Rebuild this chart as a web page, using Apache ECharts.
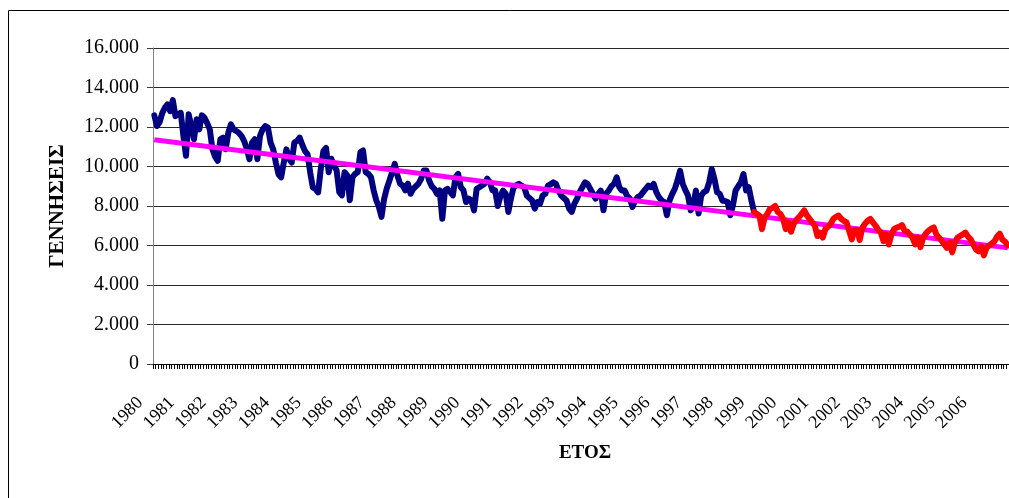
<!DOCTYPE html>
<html>
<head>
<meta charset="utf-8">
<script src="https://cdn.jsdelivr.net/npm/echarts@6/dist/echarts.min.js"></script>
<style>
  html, body { margin: 0; padding: 0; background: #fff; }
  #chart { width: 1009px; height: 498px; }
</style>
</head>
<body>
<div id="chart"></div>
<script>
// Years on the category axis (one label per January)
const years = [1980, 1981, 1982, 1983, 1984, 1985, 1986, 1987, 1988, 1989, 1990,
  1991, 1992, 1993, 1994, 1995, 1996, 1997, 1998, 1999, 2000, 2001, 2002, 2003,
  2004, 2005, 2006];

// Monthly births, Jan 1980 – Dec 1998
const births1980to1998 = [
  12590, 12050, 12250, 12700, 12975, 13140, 12800, 13360, 12550, 12650, 12720, 11550,
  10540, 12640, 12050, 11380, 12390, 11880, 12590, 12470, 12200, 11880, 10870, 10500,
  10290, 11380, 11460, 10870, 11710, 12130, 11880, 11800, 11700, 11550, 11290, 10900,
  10370, 11210, 11380, 10370, 11550, 11880, 12050, 11970, 11210, 10870, 10200, 9610,
  9450, 10200, 10870, 10400, 10200, 11210, 11290, 11460, 11100, 10790, 10620, 9700,
  8940, 8860, 8690, 9870, 10790, 10940, 9710, 10390, 10050, 9800, 8700, 8540,
  9710, 9550, 8290, 9460, 9630, 9710, 10720, 10810, 9710, 9630, 9460, 8800,
  8290, 7950, 7450, 8370, 8900, 9290, 9710, 10130, 9550, 9130, 9040, 8790,
  9130, 8620, 8870, 9000, 9130, 9380, 9800, 9800, 9290, 9000, 8870, 8620,
  8790, 7360, 8790, 8870, 8700, 8540, 9460, 9630, 8960, 8790, 8200, 8370,
  8290, 7780, 8870, 8950, 9040, 9130, 9380, 9210, 8790, 8800, 8000, 8500,
  8780, 8620, 7700, 8400, 8950, 9050, 9120, 9030, 8950, 8530, 8400, 8280,
  7870, 8200, 8120, 8530, 8620, 9030, 9100, 9200, 9120, 8780, 8530, 8400,
  8280, 7870, 7700, 8120, 8370, 8700, 8950, 9200, 9120, 8870, 8620, 8370,
  8600, 8780, 7780, 8620, 8780, 9000, 9120, 9450, 8950, 8780, 8780, 8500,
  8370, 7950, 8280, 8450, 8530, 8700, 8870, 9030, 8950, 9120, 8700, 8450,
  8280, 8200, 7530, 8280, 8600, 8870, 9280, 9780, 9120, 8800, 8530, 7780,
  8030, 8780, 7620, 8530, 8700, 8780, 9200, 9870, 9370, 8700, 8620, 8280,
  8250, 8200, 7530, 8030, 8780, 9000, 9200, 9620, 8780, 8950, 8280, 7700
];

// Monthly births, Jan 1999 – Dec 2006
const births1999to2006 = [
  7600, 7520, 6830, 7400, 7600, 7850, 7900, 8000, 7690, 7600, 7350, 6830,
  7170, 6700, 7100, 7300, 7430, 7600, 7775, 7520, 7350, 7170, 7000, 6480,
  6650, 6400, 6830, 6950, 7100, 7345, 7450, 7520, 7345, 7250, 7170, 6740,
  6310, 6780, 6800, 6280, 6900, 7100, 7250, 7345, 7170, 7000, 6800, 6655,
  6220, 6560, 6050, 6560, 6830, 6910, 6950, 7035, 6740, 6700, 6550, 6400,
  6050, 6400, 5915, 6400, 6600, 6740, 6850, 6915, 6560, 6400, 6250, 6050,
  5880, 6140, 5655, 6140, 6400, 6480, 6560, 6655, 6450, 6310, 6050, 5800,
  5705, 5960, 5500, 5880, 6000, 6100, 6220, 6450, 6600, 6300, 6200, 6000
];

// Linear trend: value at the first and at the last month
const trendEnds = [11350, 5880];

// Y axis ticks
const yTicks = { min: 0, max: 16000, step: 2000 };

const months = [];
years.forEach(y => {
  for (let m = 1; m <= 12; m++) months.push(y + '-' + String(m).padStart(2, '0'));
});
const n = months.length;
const firstLen = births1980to1998.length;
const joinAt = firstLen - 1;

const blueData = months.map((_, i) => (i < firstLen ? births1980to1998[i] : null));
const redData = months.map((_, i) => {
  if (i < joinAt) return null;
  if (i === joinAt) return births1980to1998[joinAt];
  return births1999to2006[i - firstLen];
});
const trendData = months.map((_, i) => (i === 0 ? trendEnds[0] : i === n - 1 ? trendEnds[1] : null));

const fmtThousands = v => String(v).replace(/\B(?=(\d{3})+(?!\d))/g, '.');
const serif = '"Liberation Serif", "Times New Roman", serif';

const chart = echarts.init(document.getElementById('chart'), null, { renderer: 'canvas' });
chart.setOption({
  animation: false,
  backgroundColor: '#fff',
  grid: { left: 153, top: 48, width: 868, height: 316, containLabel: false },
  xAxis: {
    type: 'category',
    data: months,
    boundaryGap: true,
    axisLine: { show: true, lineStyle: { color: '#000', width: 1 } },
    axisTick: { show: true, interval: 0, length: 5, lineStyle: { color: '#000', width: 1 } },
    axisLabel: {
      interval: 11,
      rotate: 45,
      margin: 22,
      padding: [0, 20, 0, 0],
      formatter: v => v.slice(0, 4),
      fontFamily: serif,
      fontSize: 18,
      color: '#000'
    },
    splitLine: { show: false }
  },
  yAxis: {
    type: 'value',
    min: yTicks.min,
    max: yTicks.max,
    interval: yTicks.step,
    axisLine: { show: true, lineStyle: { color: '#808080', width: 1 } },
    axisTick: { show: true, length: 6, lineStyle: { color: '#404040', width: 1 } },
    axisLabel: {
      margin: 14,
      formatter: fmtThousands,
      fontFamily: serif,
      fontSize: 20,
      color: '#000'
    },
    splitLine: { show: true, lineStyle: { color: '#2a2a2a', width: 1 } }
  },
  series: [
    {
      type: 'line',
      data: blueData,
      symbol: 'none',
      lineStyle: { color: '#000080', width: 6, join: 'round', cap: 'round' },
      z: 2
    },
    {
      type: 'line',
      data: trendData,
      connectNulls: true,
      symbol: 'none',
      lineStyle: { color: '#FF00FF', width: 5 },
      z: 3
    },
    {
      type: 'line',
      data: redData,
      symbol: 'none',
      lineStyle: { color: '#FF0000', width: 6, join: 'round', cap: 'round' },
      z: 4
    }
  ],
  graphic: [
    {
      type: 'rect',
      shape: { x: 8.5, y: 10.5, width: 1200, height: 700 },
      style: { fill: 'none', stroke: '#000', lineWidth: 1 },
      silent: true,
      z: -1
    },
    {
      type: 'text',
      x: 58, y: 206,
      rotation: Math.PI / 2,
      style: { text: 'ΓΕΝΝΗΣΕΙΣ', align: 'center', verticalAlign: 'middle',
        font: 'bold 21px ' + serif, fill: '#000' }
    },
    {
      type: 'text',
      x: 585, y: 453,
      style: { text: 'ΕΤΟΣ', align: 'center', verticalAlign: 'middle',
        font: 'bold 19px ' + serif, fill: '#000' }
    }
  ]
});
</script>
</body>
</html>
